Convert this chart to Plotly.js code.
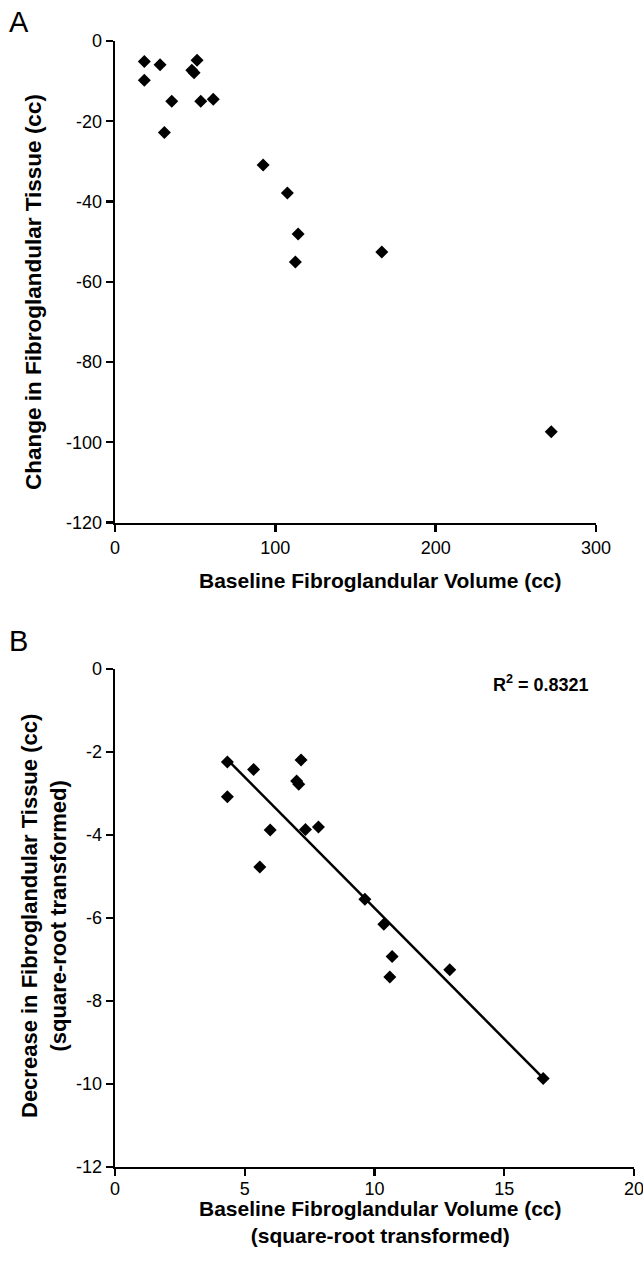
<!DOCTYPE html>
<html>
<head>
<meta charset="utf-8">
<script src="https://cdn.plot.ly/plotly-3.0.1.min.js"></script>
<style>
  html, body { margin: 0; padding: 0; background: #ffffff; }
  #chart { width: 643px; height: 1265px; }
</style>
</head>
<body>
<div id="chart"></div>
<script>
// ---- Panel A data (raw volumes, cc) ----
const aBaseline = [18.3, 18.3, 28.1, 30.8, 35.4, 47.9, 49.3, 51.2, 53.5, 61.3, 92.4, 107.5, 112.5, 114.2, 166.4, 272.1];
const aChange   = [-5.1, -9.8, -5.9, -22.8, -15.0, -7.3, -7.9, -4.8, -15.0, -14.5, -30.9, -37.9, -55.1, -48.1, -52.6, -97.4];

// ---- Panel B data (square-root transformed) ----
const bBaselineSqrt = [4.33, 4.33, 5.34, 5.58, 5.98, 7.00, 7.08, 7.17, 7.34, 7.84, 9.63, 10.36, 10.59, 10.68, 12.90, 16.50];
const bDecreaseSqrt = [-2.24, -3.08, -2.42, -4.77, -3.88, -2.70, -2.78, -2.19, -3.87, -3.81, -5.55, -6.15, -7.42, -6.93, -7.25, -9.87];

// ---- Tick labels ----
const aXTicks = [0, 100, 200, 300];
const aYTicks = [0, -20, -40, -60, -80, -100, -120];
const bXTicks = [0, 5, 10, 15, 20];
const bYTicks = [0, -2, -4, -6, -8, -10, -12];
const rSquaredText = 'R<sup>2</sup> = 0.8321';

// least-squares fit for the trendline in panel B
function linFit(xs, ys) {
  const n = xs.length;
  const mx = xs.reduce((s, v) => s + v, 0) / n;
  const my = ys.reduce((s, v) => s + v, 0) / n;
  let sxy = 0, sxx = 0;
  for (let i = 0; i < n; i++) { sxy += (xs[i] - mx) * (ys[i] - my); sxx += (xs[i] - mx) ** 2; }
  const slope = sxy / sxx;
  return { slope, intercept: my - slope * mx };
}
const fit = linFit(bBaselineSqrt, bDecreaseSqrt);
const fitX = [Math.min(...bBaselineSqrt), Math.max(...bBaselineSqrt)];
const fitY = fitX.map(x => fit.intercept + fit.slope * x);

// figure pixel helpers
const W = 643, H = 1265;
const fx = p => p / W;
const fy = p => 1 - p / H;

const FONT = 'Liberation Sans, Arial, Helvetica, sans-serif';
const marker = { symbol: 'diamond', size: 10, color: '#000000', line: { width: 0 } };

const traces = [
  { x: aBaseline, y: aChange, type: 'scatter', mode: 'markers', marker, xaxis: 'x', yaxis: 'y', hoverinfo: 'x+y' },
  { x: bBaselineSqrt, y: bDecreaseSqrt, type: 'scatter', mode: 'markers', marker, xaxis: 'x2', yaxis: 'y2', hoverinfo: 'x+y' },
  { x: fitX, y: fitY, type: 'scatter', mode: 'lines', line: { color: '#000000', width: 2.5 }, xaxis: 'x2', yaxis: 'y2', hoverinfo: 'skip' }
];

const axisCommon = {
  showline: true, linecolor: '#000000', linewidth: 2.4,
  ticks: 'outside', ticklen: 7, tickwidth: 2.4, tickcolor: '#000000',
  showgrid: false, zeroline: false, fixedrange: true,
  ticklabeloverflow: 'allow',
  tickfont: { family: FONT, size: 18, color: '#000000' }
};

const layout = {
  width: W, height: H,
  margin: { l: 0, r: 0, t: 0, b: 0 },
  paper_bgcolor: '#ffffff', plot_bgcolor: 'rgba(0,0,0,0)',
  showlegend: false,
  xaxis: Object.assign({}, axisCommon, {
    domain: [fx(115), fx(596)], range: [0, 300], tickvals: aXTicks, ticktext: aXTicks.map(String), anchor: 'y'
  }),
  yaxis: Object.assign({}, axisCommon, {
    domain: [fy(522.5), fy(41)], range: [-120, 0], tickvals: aYTicks, ticktext: aYTicks.map(String), anchor: 'x'
  }),
  xaxis2: Object.assign({}, axisCommon, {
    domain: [fx(115), fx(634)], range: [0, 20], tickvals: bXTicks, ticktext: bXTicks.map(String), anchor: 'y2',
    ticklabelstandoff: -3
  }),
  yaxis2: Object.assign({}, axisCommon, {
    domain: [fy(1167), fy(669)], range: [-12, 0], tickvals: bYTicks, ticktext: bYTicks.map(String), anchor: 'x2'
  }),
  annotations: [
    { text: 'A', xref: 'paper', yref: 'paper', x: fx(18.5), y: fy(22), xanchor: 'center', yanchor: 'middle', showarrow: false,
      font: { family: FONT, size: 29, color: '#000000' } },
    { text: 'B', xref: 'paper', yref: 'paper', x: fx(18.5), y: fy(641), xanchor: 'center', yanchor: 'middle', showarrow: false,
      font: { family: FONT, size: 29, color: '#000000' } },
    { text: '<b>Change in Fibroglandular Tissue (cc)</b>', xref: 'paper', yref: 'paper', x: fx(33), y: fy(292), textangle: -90,
      xanchor: 'center', yanchor: 'middle', showarrow: false, font: { family: FONT, size: 22.5, color: '#000000' } },
    { text: '<b>Baseline Fibroglandular Volume (cc)</b>', xref: 'paper', yref: 'paper', x: fx(380), y: fy(580),
      xanchor: 'center', yanchor: 'middle', showarrow: false, font: { family: FONT, size: 21, color: '#000000' } },
    { text: '<b>Decrease in Fibroglandular Tissue (cc)<br>(square-root transformed)</b>', xref: 'paper', yref: 'paper',
      x: fx(44), y: fy(916), textangle: -90, xanchor: 'center', yanchor: 'middle', showarrow: false,
      font: { family: FONT, size: 22, color: '#000000' } },
    { text: '<b>Baseline Fibroglandular Volume (cc)<br>(square-root transformed)</b>', xref: 'paper', yref: 'paper',
      x: fx(380), y: fy(1222), xanchor: 'center', yanchor: 'middle', showarrow: false,
      font: { family: FONT, size: 21, color: '#000000' } },
    { text: '<b>' + rSquaredText + '</b>', xref: 'paper', yref: 'paper', x: fx(540.5), y: fy(683),
      xanchor: 'center', yanchor: 'middle', showarrow: false, font: { family: FONT, size: 18, color: '#000000' } }
  ]
};

Plotly.newPlot('chart', traces, layout, { displayModeBar: false, staticPlot: true });
</script>
</body>
</html>
